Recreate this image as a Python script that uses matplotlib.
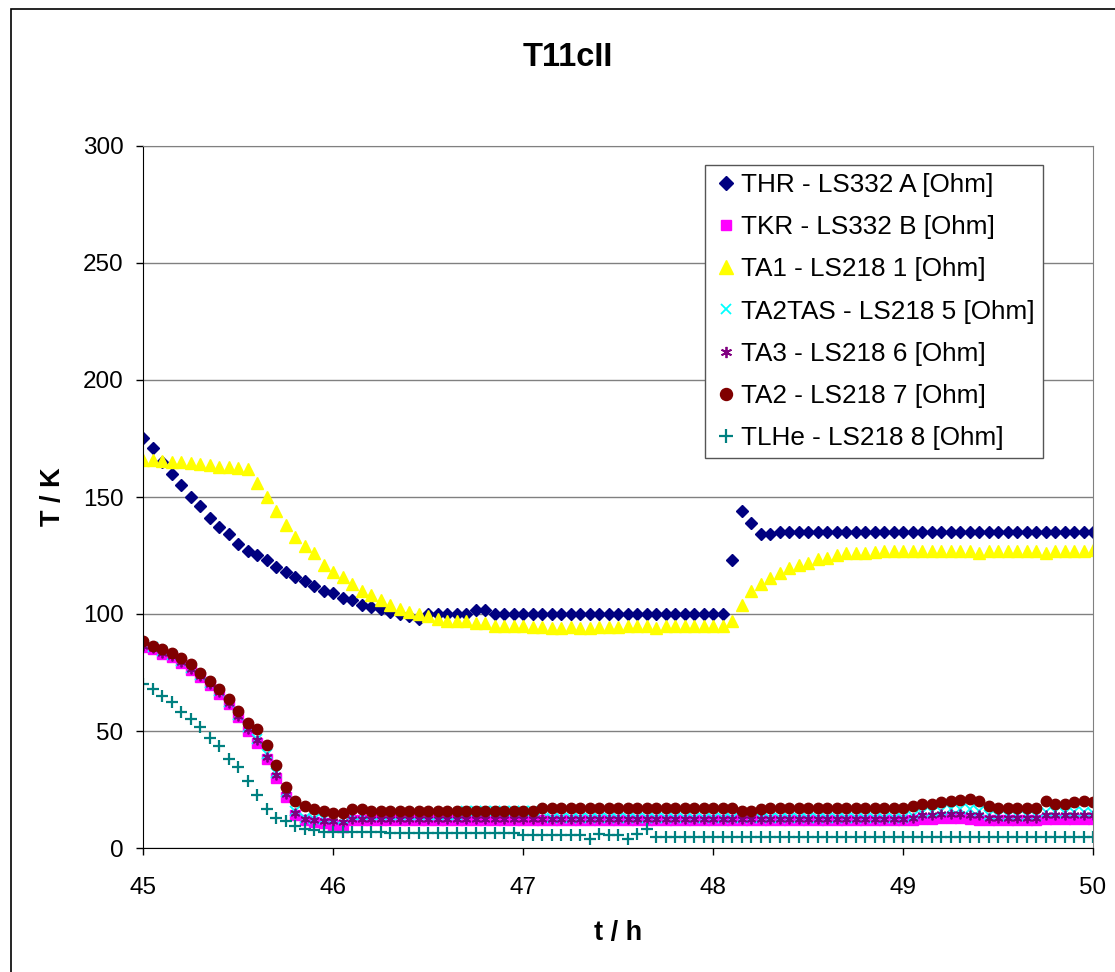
import numpy as np
import matplotlib
matplotlib.use('Agg')
import matplotlib.pyplot as plt
from matplotlib.patches import Rectangle

plt.rcParams['font.family'] = ['Liberation Sans', 'DejaVu Sans']

# time axis: one reading every 3 min (0.05 h)
t = np.linspace(45, 50, 101)

thr = [175, 171, 165, 160, 155, 150, 146, 141, 137, 134,
       130, 127, 125, 123, 120, 118, 116, 114, 112, 110,
       109, 107, 106, 104, 103, 102, 101, 100, 99, 98,
       100, 100, 100, 100, 100, 101.5, 101.5, 100, 100, 100,
       100, 100, 100, 100, 100, 100, 100, 100, 100, 100,
       100, 100, 100, 100, 100, 100, 100, 100, 100, 100,
       100, 100, 123, 144, 139, 134, 134, 135, 135, 135,
       135, 135, 135, 135, 135, 135, 135, 135, 135, 135,
       135, 135, 135, 135, 135, 135, 135, 135, 135, 135,
       135, 135, 135, 135, 135, 135, 135, 135, 135, 135,
       135]

tkr = [86, 85, 83, 81.5, 79, 76, 73, 69.5, 66, 61.5,
       56, 50, 45, 38, 30, 22, 14, 12, 11, 10.5,
       10, 9, 12, 12, 12, 12, 12, 12, 12, 12,
       12, 12, 12, 12, 12, 12, 12, 12, 12, 12,
       12, 12, 12, 12, 12, 12, 12, 12, 12, 12,
       12, 12, 12, 12, 12, 12, 12, 12, 12, 12,
       12, 12, 12, 12, 12, 12, 12, 12, 12, 12,
       12, 12, 12, 12, 12, 12, 12, 12, 12, 12,
       12, 12, 12.5, 12.5, 13, 13, 13, 12.5, 12, 12,
       12, 12, 12, 12, 12, 12.5, 12.5, 12.5, 12.5, 12.5,
       12.5]

ta1 = [166, 166, 165.5, 165, 165, 164.5, 164, 163.5, 163, 163,
       162.5, 162, 156, 150, 144, 138, 133, 129, 126, 121,
       118, 116, 113, 110, 108, 106, 104, 102, 101, 100,
       99, 98, 97, 97, 97, 96, 96, 95, 95, 95,
       95, 94.5, 94.5, 94, 94, 94.5, 94, 94, 94.5, 94.5,
       94.5, 95, 95, 95, 94, 95, 95, 95, 95, 95,
       95, 95, 97, 104, 110, 113, 115.5, 117.5, 119.5, 121,
       122, 123.5, 124, 125, 126, 126, 126, 126.5, 127, 127,
       127, 127, 127, 127, 127, 127, 127, 127, 126, 127,
       127, 127, 127, 127, 127, 126, 127, 127, 127, 127,
       127.5]

ta2tas = [87, 86, 84, 82.5, 80, 77, 74, 70.5, 67, 62.5,
          57, 51.5, 46.5, 40, 32, 24, 16, 13, 12.5, 12.5,
          12.5, 12.5, 14, 14, 14, 14, 14, 14, 14, 14,
          14, 14, 14, 14, 16, 16, 16, 16, 16, 16,
          16, 16, 16, 13, 13, 13, 13, 13, 13, 13,
          13, 13, 13, 13, 13, 13, 13, 13, 13, 13,
          13, 13, 13, 13, 13, 13, 13, 13, 13, 13,
          13, 13, 13, 13, 13, 13, 13, 13, 13, 13,
          13, 13.5, 15, 15.5, 16, 16.5, 16.5, 16.5, 16, 14,
          13.5, 13.5, 13.5, 13.5, 13.5, 15.5, 15.5, 15, 15.5, 15.5,
          15]

ta3 = [86.5, 85.5, 83.5, 82, 79.5, 76.5, 73.5, 70, 66.5, 62,
       56.5, 51, 46, 39, 31, 23, 15, 12.5, 12, 11.5,
       11.5, 11, 12.5, 12.5, 12.5, 12.5, 12.5, 12.5, 12.5, 12.5,
       12.5, 12.5, 12.5, 12.5, 12.5, 12.5, 12.5, 12.5, 12.5, 12.5,
       12.5, 12.5, 12.5, 12.5, 12.5, 12.5, 12.5, 12.5, 12.5, 12.5,
       12.5, 12.5, 12.5, 12.5, 12.5, 12.5, 12.5, 12.5, 12.5, 12.5,
       12.5, 12.5, 12.5, 12.5, 12.5, 12.5, 12.5, 12.5, 12.5, 12.5,
       12.5, 12.5, 12.5, 12.5, 12.5, 12.5, 12.5, 12.5, 12.5, 12.5,
       12.5, 13, 14, 14, 14.5, 14.5, 14.5, 14, 14, 13,
       13, 13, 13, 13, 13, 14, 14, 14, 14, 14,
       14]

ta2 = [88.5, 86.5, 85, 83.5, 81, 78.5, 75, 71.5, 68, 63.5,
       58.5, 53.5, 51, 44, 35.5, 26, 20, 18, 16.5, 16,
       15, 15, 16.5, 16.5, 16, 16, 16, 16, 16, 16,
       16, 16, 16, 16, 16, 16, 16, 16, 16, 16,
       16, 16, 17, 17, 17, 17, 17, 17, 17, 17,
       17, 17, 17, 17, 17, 17, 17, 17, 17, 17,
       17, 17, 17, 16, 16, 16.5, 17, 17, 17, 17,
       17, 17, 17, 17, 17, 17, 17, 17, 17, 17,
       17, 18, 19, 19, 19.5, 20, 20.5, 21, 20, 18,
       17, 17, 17, 17, 17, 20, 19, 19, 19.5, 20,
       19.5]

tlhe = [70, 68, 65, 62.5, 58, 55, 51.5, 47, 43.5, 38,
        34.5, 28.5, 22.5, 16.5, 13, 11.5, 9.5, 8, 7.5, 7,
        7, 7, 7, 7, 7, 7, 6.5, 6.5, 6.5, 6.5,
        6.5, 6.5, 6.5, 6.5, 6.5, 6.5, 6.5, 6.5, 6.5, 6.5,
        5.5, 5.5, 5.5, 5.5, 5.5, 5.5, 5.5, 4, 6, 5.5,
        5.5, 4, 6, 8, 4.5, 4.5, 4.5, 4.5, 4.5, 4.5,
        4.5, 4.5, 4.5, 4.5, 4.5, 4.5, 4.5, 4.5, 4.5, 4.5,
        4.5, 4.5, 4.5, 4.5, 4.5, 4.5, 4.5, 4.5, 4.5, 4.5,
        4.5, 4.5, 4.5, 4.5, 4.5, 4.5, 4.5, 4.5, 4.5, 4.5,
        4.5, 4.5, 4.5, 4.5, 4.5, 4.5, 4.5, 4.5, 4.5, 4.5,
        4.5]

labels = ['THR - LS332 A [Ohm]', 'TKR - LS332 B [Ohm]', 'TA1 - LS218 1 [Ohm]',
          'TA2TAS - LS218 5 [Ohm]', 'TA3 - LS218 6 [Ohm]', 'TA2 - LS218 7 [Ohm]',
          'TLHe - LS218 8 [Ohm]']

fig = plt.figure(figsize=(11.15, 9.72), dpi=100)
ax = fig.add_axes([143/1115, 124/972, 950/1115, 702/972])

ax.plot(t, thr, ls='none', marker='D', ms=6.2, color='#000080', mec='#000080', label=labels[0])
ax.plot(t, tkr, ls='none', marker='s', ms=6.5, color='#FF00FF', mec='#FF00FF', label=labels[1])
ax.plot(t, ta1, ls='none', marker='^', ms=8.5, color='#FFFF00', mec='#FFFF00', label=labels[2])
ax.plot(t, ta2tas, ls='none', marker='x', ms=6.5, mew=1.3, color='#00FFFF', label=labels[3])
ax.plot(t, ta3, ls='none', marker=(6, 2, 0), ms=7, mew=1.3, color='#800080', label=labels[4])
ax.plot(t, ta2, ls='none', marker='o', ms=7.5, color='#800000', mec='#800000', label=labels[5])
ax.plot(t, tlhe, ls='none', marker='+', ms=8.5, mew=1.6, color='#008080', label=labels[6])

ax.set_xlim(45, 50)
ax.set_ylim(0, 300)
ax.set_xticks([45, 46, 47, 48, 49, 50])
ax.set_yticks([0, 50, 100, 150, 200, 250, 300])
ax.tick_params(direction='out', length=5, width=1, labelsize=17.5, pad=9, colors='#000000')
ax.tick_params(axis='x', pad=16)
ax.grid(axis='y', color='#808080', lw=1)
ax.set_axisbelow(True)
for s in ['top', 'right']:
    ax.spines[s].set_color('#808080')
for s in ['left', 'bottom']:
    ax.spines[s].set_color('#000000')

ax.set_xlabel('t / h', fontsize=19.5, fontweight='bold', labelpad=15)
ax.set_ylabel('T / K', fontsize=19.5, fontweight='bold', labelpad=12)
fig.text(568/1115, 1 - 57/972, 'T11cII', fontsize=23.5, fontweight='bold', ha='center', va='center')

leg = ax.legend(loc='upper right', bbox_to_anchor=(0.947, 0.973), fontsize=18.8, numpoints=1,
                frameon=True, fancybox=False, framealpha=1, edgecolor='#555555',
                borderpad=0.3, labelspacing=0.7, handlelength=0.95, handletextpad=0.12,
                borderaxespad=0, markerscale=1.15)
leg.get_frame().set_linewidth(1)

# chart border
fig.patches.append(Rectangle((11/1115, -0.01), 1.0, 1.0 - 9/972 + 0.01, transform=fig.transFigure,
                             fill=False, edgecolor='#000000', lw=1.2))

fig.savefig('out.png', dpi=100)
